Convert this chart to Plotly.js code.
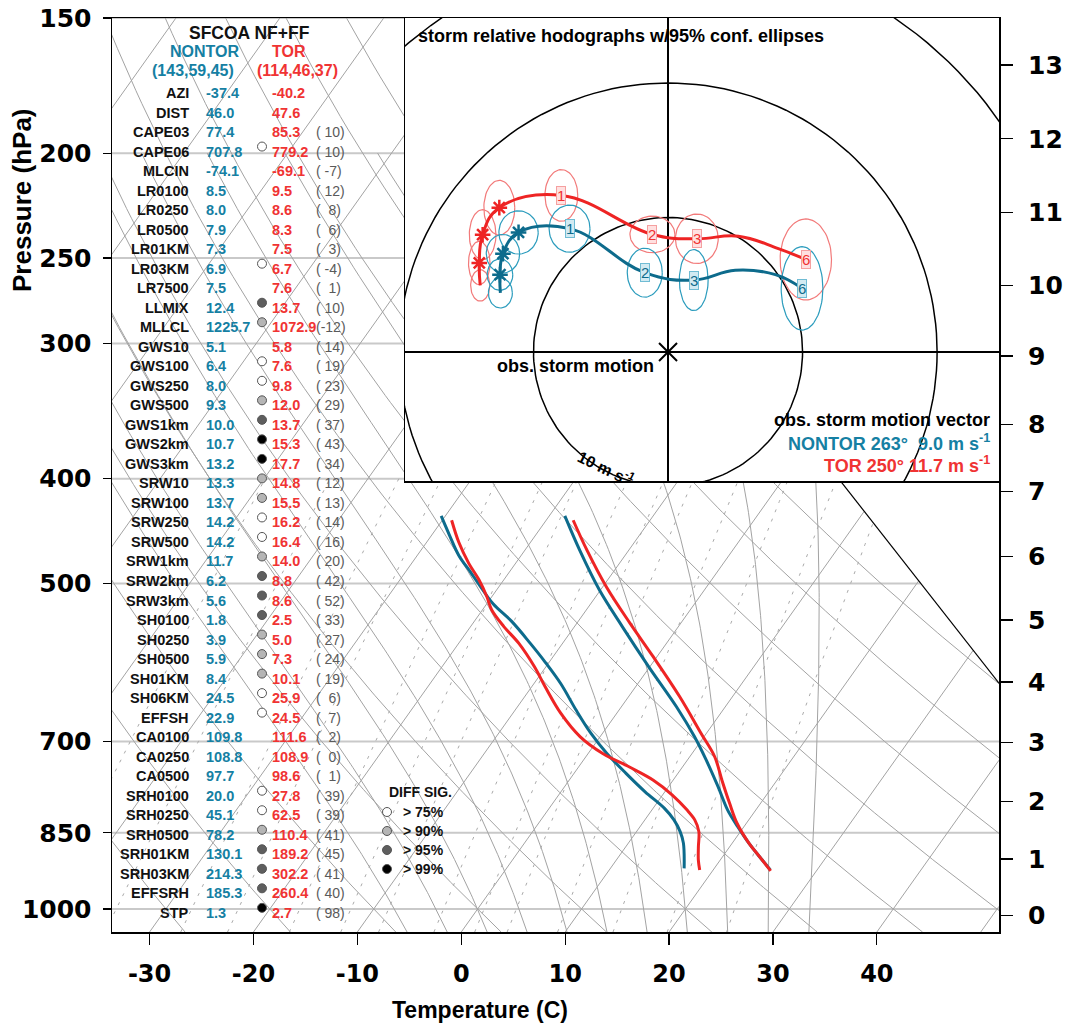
<!DOCTYPE html>
<html><head><meta charset="utf-8">
<script src="https://cdn.plot.ly/plotly-3.0.1.min.js"></script>
<style>body{margin:0;background:#fff}</style>
</head><body>
<div id="chart" style="width:1069px;height:1032px"></div>
<script>
// ================= DATA =================
const tempTicks = [-30,-20,-10,0,10,20,30,40];
const pressureTicks = [150,200,250,300,400,500,700,850,1000];
const pressureLines = [1000,850,700,500,400,300,250,200,150];
const heightKm = [0,1,2,3,4,5,6,7,8,9,10,11,12,13];
const heightPressure = [1013.25,898.8,795.0,701.1,616.6,540.5,472.2,411.1,356.5,308.0,265.0,227.0,194.0,165.8];

// composite soundings (hPa, deg C)
const nontorTp = [920,895,869,839,810,771,728,693,650,597,548,507,466,433];
const nontorT  = [25.5,23.6,21.6,19.4,17.3,14.8,11.8,9.1,5.3,-0.1,-5.4,-10.1,-14.7,-18.5];
const torTp    = [922,895,869,833,798,760,723,688,636,584,544,504,466,437];
const torT     = [25.6,23.6,21.6,19.1,17.0,14.7,12.4,9.5,4.9,-0.4,-4.9,-9.6,-14.0,-17.4];
const nontorTdp = [917,869,848,827,807,779,749,718,688,655,619,591,568,542,522,500,489,471,451,433];
const nontorTd  = [17.1,15.3,14.2,12.8,11.1,8.1,5.0,1.8,-1.1,-4.1,-7.4,-10.4,-13.1,-16.4,-19.4,-22.2,-23.6,-26.0,-28.3,-30.4];
const torTdp = [920,901,876,848,827,810,784,760,739,718,693,659,623,597,568,548,529,514,496,479,458,437];
const torTd  = [18.7,17.9,17.0,16.0,14.8,13.4,10.9,8.1,4.9,1.4,-1.9,-5.4,-8.7,-11.1,-14.2,-16.8,-19.1,-20.5,-22.4,-24.5,-26.9,-29.1];

// skew-T background lines
const isotherms = [-100,-90,-80,-70,-60,-50,-40,-30,-20,-10,0,10,20,30,40,50];
const dryAdiabats = [-30,-20,-10,0,10,20,30,40,50,60,70,80,90,100,110,120,130,140,150,160,170];
const moistAdiabats = [32,28,24,20,16,12,8,4,0,-4,-8];
const mixingRatios = [0.1,0.2,0.4,0.6,1,1.5,2,3,4,5,7,10,14,20];

// storm-relative hodographs (m/s), levels
const hodoLevels = ['10m','100m','250m','500m','1km','2km','3km','4km','5km','6km'];
const nontorU = [-12.46,-12.49,-12.27,-11.11,-7.32,-1.73,1.91,5.0,7.98,9.96];
const nontorV = [4.39,5.75,7.31,8.89,9.17,5.90,5.35,6.08,5.75,4.73];
const torU = [-13.96,-14.03,-13.78,-12.54,-7.93,-1.16,2.14,5.23,8.2,10.24];
const torV = [4.95,6.62,8.72,10.73,11.64,8.74,8.42,8.61,7.68,6.88];
const nontorEllU = [0.89,0.95,1.24,1.46,1.52,1.30,1.07,null,null,1.55];
const nontorEllV = [1.12,1.17,1.43,1.61,1.75,1.82,2.27,null,null,3.10];
const torEllU = [0.71,0.80,0.99,1.15,1.22,1.67,1.59,null,null,1.91];
const torEllV = [1.17,1.61,1.86,2.03,1.92,1.36,1.84,null,null,3.01];
const starLevels = ['100m','250m','500m'];
const labelLevels = {'1km':'1','2km':'2','3km':'3','6km':'6'};
const rings = [10,20,30];
const nontorMotion = {dir:263, spd:9.0};
const torMotion = {dir:250, spd:11.7};

// parameter table
const nontorN = [143,59,45];
const torN = [114,46,37];
const params = ['AZI','DIST','CAPE03','CAPE06','MLCIN','LR0100','LR0250','LR0500','LR01KM','LR03KM','LR7500','LLMIX','MLLCL',
 'GWS10','GWS100','GWS250','GWS500','GWS1km','GWS2km','GWS3km','SRW10','SRW100','SRW250','SRW500','SRW1km','SRW2km','SRW3km',
 'SH0100','SH0250','SH0500','SH01KM','SH06KM','EFFSH','CA0100','CA0250','CA0500','SRH0100','SRH0250','SRH0500','SRH01KM','SRH03KM','EFFSRH','STP'];
const nontorVals = [-37.4,46.0,77.4,707.8,-74.1,8.5,8.0,7.9,7.3,6.9,7.5,12.4,1225.7,
 5.1,6.4,8.0,9.3,10.0,10.7,13.2,13.3,13.7,14.2,14.2,11.7,6.2,5.6,
 1.8,3.9,5.9,8.4,24.5,22.9,109.8,108.8,97.7,20.0,45.1,78.2,130.1,214.3,185.3,1.3];
const torVals = [-40.2,47.6,85.3,779.2,-69.1,9.5,8.6,8.3,7.5,6.7,7.6,13.7,1072.9,
 5.8,7.6,9.8,12.0,13.7,15.3,17.7,14.8,15.5,16.2,16.4,14.0,8.8,8.6,
 2.5,5.0,7.3,10.1,25.9,24.5,111.6,108.9,98.6,27.8,62.5,110.4,189.2,302.2,260.4,2.7];
const pctDiff = [null,null,10,10,-7,12,8,6,3,-4,1,10,-12,
 14,19,23,29,37,43,34,12,13,14,16,20,42,52,
 33,27,24,19,6,7,2,0,1,39,39,41,45,41,40,98];
const sigLevel = [0,0,0,75,0,0,0,0,0,75,0,95,90,
 0,75,75,90,95,99,99,90,90,75,75,90,95,95,
 95,90,90,90,75,75,0,0,0,75,75,90,95,95,95,99];
const sigLegend = [75,90,95,99];

// ================= STYLE / HELPERS =================
const TEAL = '#0d6b8c', TEAL_TXT = '#1580a3', RED = '#ee2424', RED_TXT = '#f03333';
const TEAL_ELL = '#2b9cbd', RED_ELL = '#f27a7a';
const SIGFILL = {75:'#ffffff', 90:'#b5b5b5', 95:'#5e5e5e', 99:'#000000'};
const FONT = 'Liberation Sans, Arial, Helvetica, sans-serif';
const AXFONT = 'DejaVu Sans, Liberation Sans, Arial, sans-serif';
const XMIN = -19, XMAX = 27.1, BND_C = 36.3, BND_TOPX = 18.6;
const skewty = p => 132.182 - 44.061*Math.log10(p);
const skewtx = (t, y) => 0.54*t + 0.90692*y;
const PL = 112, PR = 999, PT = 18, PB = 932;
const PX = px => (px - PL)/(PR - PL);
const PY = py => (PB - py)/(PB - PT);

function xBound(y){ return Math.min(XMAX, Math.max(BND_C - y, BND_TOPX)); }
function intersect(a,b){
  const f = t => { const x=a[0]+(b[0]-a[0])*t, y=a[1]+(b[1]-a[1])*t; return x - xBound(y); };
  let lo=0, hi=1; const sa = f(0) > 0;
  for(let k=0;k<30;k++){ const m=(lo+hi)/2; if((f(m)>0)===sa) lo=m; else hi=m; }
  const t=(lo+hi)/2; return [a[0]+(b[0]-a[0])*t, a[1]+(b[1]-a[1])*t];
}
function clipInto(pts, X, Y){
  let prevIn = null;
  for(let i=0;i<pts.length;i++){
    const [x,y] = pts[i]; const inside = x <= xBound(y) + 1e-9;
    if(inside){
      if(prevIn === false){ const q = intersect(pts[i-1], pts[i]); X.push(q[0]); Y.push(q[1]); }
      X.push(x); Y.push(y);
    } else if(prevIn === true){
      const q = intersect(pts[i-1], pts[i]); X.push(q[0]); Y.push(q[1]);
    }
    prevIn = inside;
  }
  X.push(null); Y.push(null);
}
function pLevels(p1, p2, step){ const a=[]; for(let p=p1; p>=p2-1e-9; p-=step) a.push(p); return a; }

// grid: isotherms
const isoX=[], isoY=[];
isotherms.forEach(t => clipInto(pLevels(1050,150,5).map(p => { const y=skewty(p); return [skewtx(t,y), y]; }), isoX, isoY));
// dry adiabats
const dryX=[], dryY=[];
dryAdiabats.forEach(th => clipInto(pLevels(1050,150,5).map(p => { const y=skewty(p); const t=(th+273.15)*Math.pow(p/1000,0.2857)-273.15; return [skewtx(t,y), y]; }), dryX, dryY));
// moist adiabats
const Rd=287.04, Cp=1005.7, Lv=2.501e6, EPS=0.622;
const esat = tc => 6.112*Math.exp(17.67*tc/(tc+243.5));
function dTdp(p,T){ const es=esat(T-273.15); const rs=EPS*es/(p-es); return (Rd*T+Lv*rs)/(p*(Cp+Lv*Lv*rs*EPS/(Rd*T*T))); }
function rk(p,T,h){ const k1=dTdp(p,T),k2=dTdp(p+h/2,T+h/2*k1),k3=dTdp(p+h/2,T+h/2*k2),k4=dTdp(p+h,T+h*k3); return T+h/6*(k1+2*k2+2*k3+k4); }
const moistX=[], moistY=[];
moistAdiabats.forEach(t0 => {
  const pts=[]; let T=t0+273.15; const down=[];
  for(let p=1000;p<1050;p+=5){ T=rk(p,T,5); down.push([p+5,T]); }
  down.reverse().forEach(([p,T]) => { const y=skewty(p); pts.push([skewtx(T-273.15,y), y]); });
  T=t0+273.15;
  for(let p=1000;p>=200;p-=5){ const y=skewty(p); pts.push([skewtx(T-273.15,y), y]); T=rk(p,T,-5); }
  clipInto(pts, moistX, moistY);
});
// mixing ratio lines
const mixX=[], mixY=[];
mixingRatios.forEach(w => clipInto(pLevels(1050,400,10).map(p => {
  const e=w*p/(622+w); const l=Math.log(e/6.112); const td=243.5*l/(17.67-l); const y=skewty(p); return [skewtx(td,y), y]; }), mixX, mixY));
// pressure lines
const presX=[], presY=[];
pressureLines.forEach(p => { const y=skewty(p); presX.push(XMIN, xBound(y), null); presY.push(y, y, null); });

const traces = [];
traces.push({x:presX, y:presY, mode:'lines', line:{color:'#c9c9c9', width:2}, hoverinfo:'skip'});
traces.push({x:isoX, y:isoY, mode:'lines', line:{color:'#a3a3a3', width:1}, hoverinfo:'skip'});
traces.push({x:dryX, y:dryY, mode:'lines', line:{color:'#a3a3a3', width:1}, hoverinfo:'skip'});
traces.push({x:moistX, y:moistY, mode:'lines', line:{color:'#a3a3a3', width:1}, hoverinfo:'skip'});
traces.push({x:mixX, y:mixY, mode:'lines', line:{color:'#aaaaaa', width:1, dash:'3px,7px'}, hoverinfo:'skip'});
// diagonal boundary
traces.push({x:[XMAX, BND_TOPX], y:[BND_C-XMAX, BND_C-BND_TOPX], mode:'lines', line:{color:'#000', width:1.2}, hoverinfo:'skip'});

function profile(ps, ts, color){
  const y = ps.map(skewty); const x = ts.map((t,i)=>skewtx(t,y[i]));
  return {x, y, mode:'lines', line:{color, width:3, shape:'spline', smoothing:1}, hoverinfo:'skip'};
}
traces.push(profile(nontorTdp, nontorTd, TEAL));
traces.push(profile(torTdp, torTd, RED));
traces.push(profile(nontorTp, nontorT, TEAL));
traces.push(profile(torTp, torT, RED));
// dummy for right axis
traces.push({x:[XMIN], y:[0], yaxis:'y2', mode:'markers', marker:{opacity:0}, hoverinfo:'skip'});

// ---- hodograph inset (x2 / y3) ----
const H = {xaxis:'x2', yaxis:'y3', hoverinfo:'skip'};
rings.forEach(r => {
  const x=[], y=[]; for(let a=0;a<=360;a+=2){ x.push(r*Math.cos(a*Math.PI/180)); y.push(r*Math.sin(a*Math.PI/180)); }
  traces.push(Object.assign({x, y, mode:'lines', line:{color:'#000', width:1.5}}, H));
});
function ellipses(U,V,RU,RV,color){
  const x=[], y=[];
  U.forEach((u,i)=>{ if(RU[i]==null) return; for(let a=0;a<=360;a+=5){ x.push(u+RU[i]*Math.cos(a*Math.PI/180)); y.push(V[i]+RV[i]*Math.sin(a*Math.PI/180)); } x.push(null); y.push(null); });
  return Object.assign({x, y, mode:'lines', line:{color, width:1.2}}, H);
}
traces.push(ellipses(torU, torV, torEllU, torEllV, RED_ELL));
traces.push(ellipses(nontorU, nontorV, nontorEllU, nontorEllV, TEAL_ELL));
traces.push(Object.assign({x:torU, y:torV, mode:'lines', line:{color:RED, width:3, shape:'spline', smoothing:1.2}}, H));
traces.push(Object.assign({x:nontorU, y:nontorV, mode:'lines', line:{color:TEAL, width:3, shape:'spline', smoothing:1.2}}, H));
const starIdx = starLevels.map(l => hodoLevels.indexOf(l));
traces.push(Object.assign({x:starIdx.map(i=>torU[i]), y:starIdx.map(i=>torV[i]), mode:'markers', marker:{symbol:'asterisk-open', size:13, color:RED, line:{color:RED, width:2.5}}}, H));
traces.push(Object.assign({x:starIdx.map(i=>nontorU[i]), y:starIdx.map(i=>nontorV[i]), mode:'markers', marker:{symbol:'asterisk-open', size:13, color:TEAL, line:{color:TEAL, width:2.5}}}, H));
traces.push(Object.assign({x:[0], y:[0], mode:'markers', marker:{symbol:'x-thin-open', size:18, color:'#000', line:{color:'#000', width:2}}}, H));

// ================= ANNOTATIONS =================
const ann = [];
const fnt = (size, color, weight, fam) => ({family:fam||FONT, size, color, weight: weight||'bold'});
function pAnn(text, px, py, xanchor, font, extra){ ann.push(Object.assign({text, x:PX(px), y:PY(py), xref:'paper', yref:'paper', xanchor, yanchor:'middle', showarrow:false, font}, extra||{})); }
// titles
pAnn('Pressure (hPa)', 22, 200, 'center', fnt(26,'#000'), {textangle:-90});
pAnn('Temperature (C)', 480, 1010, 'center', fnt(23,'#000'));
// table header
pAnn('SFCOA NF+FF', 249, 33, 'center', fnt(17.5,'#111'));
pAnn('NONTOR', 204, 52, 'center', fnt(16,TEAL_TXT));
pAnn('TOR', 289, 52, 'center', fnt(16,RED_TXT));
pAnn('(' + nontorN.join(',') + ')', 193, 70, 'center', fnt(16,TEAL_TXT));
pAnn('(' + torN.join(',') + ')', 297, 70, 'center', fnt(16,RED_TXT));
const shapes = [];
function circ(px, py, r, fill){ shapes.push({type:'circle', xref:'paper', yref:'paper', xsizemode:'pixel', ysizemode:'pixel', xanchor:PX(px), yanchor:PY(py), x0:-r, x1:r, y0:-r, y1:r, fillcolor:fill, line:{color:'#555', width:1}}); }
params.forEach((name,i) => {
  const py = 93 + i*19.52;
  pAnn(name, 191, py, 'right', fnt(14.5,'#111'));
  pAnn(nontorVals[i].toFixed(1), 204, py, 'left', fnt(14.5,TEAL_TXT));
  pAnn(torVals[i].toFixed(1), 270, py, 'left', fnt(14.5,RED_TXT));
  if(pctDiff[i] !== null){
    const s = String(pctDiff[i]); pAnn('(' + '\u00a0'.repeat(3 - s.length) + s + ')', 314, py, 'left', fnt(14,'#5a5a5a','normal'));
  }
  if(sigLevel[i]) circ(262, py - 5, 4.5, SIGFILL[sigLevel[i]]);
});
// significance legend
pAnn('DIFF SIG.', 387, 792, 'left', fnt(14,'#111'));
sigLegend.forEach((s,k) => { const py = 812 + k*19; circ(387, py, 4.5, SIGFILL[s]); pAnn('>\u00a0' + s + '%', 401, py, 'left', fnt(14,'#111')); });

// hodograph annotations
function hAnn(text, x, y, xanchor, font, extra){ ann.push(Object.assign({text, x, y, xref:'x2', yref:'y3', xanchor, yanchor:'middle', showarrow:false, font}, extra||{})); }
hAnn('storm relative hodographs w/95% conf. ellipses', -18.7, 23.5, 'left', fnt(18,'#000'));
hAnn('obs. storm motion', -0.9, -1.05, 'right', fnt(18,'#000'));
hAnn('obs. storm motion vector', 24.1, -5.03, 'right', fnt(18,'#000'));
hAnn('NONTOR ' + nontorMotion.dir + '°\u00a0\u00a0' + nontorMotion.spd.toFixed(1) + ' m s<sup>-1</sup>', 24.1, -6.74, 'right', fnt(18,TEAL_TXT));
hAnn('TOR ' + torMotion.dir + '° ' + torMotion.spd.toFixed(1) + ' m s<sup>-1</sup>', 24.1, -8.38, 'right', fnt(18,RED_TXT));
hAnn('10 m s<sup>-1</sup>', -4.6, -8.65, 'center', fnt(16,'#000'), {textangle:26});
Object.keys(labelLevels).forEach(l => {
  const i = hodoLevels.indexOf(l);
  hAnn(labelLevels[l], torU[i], torV[i], 'center', fnt(15,RED_TXT,'normal'), {bgcolor:'#ffe0e0', bordercolor:'#f5a0a0', borderwidth:1, borderpad:0});
  hAnn(labelLevels[l], nontorU[i], nontorV[i], 'center', fnt(15,TEAL,'normal'), {bgcolor:'#d2eaf2', bordercolor:'#70bcd4', borderwidth:1, borderpad:0});
});

const tickFont = {family:AXFONT, size:25, color:'#000', weight:'bold'};
const tickFontX = {family:AXFONT, size:24, color:'#000', weight:'bold'};
const yr = [skewty(1050), skewty(150)];
const layout = {
  width:1069, height:1032, margin:{l:112, r:70, t:18, b:100}, paper_bgcolor:'#fff', plot_bgcolor:'#fff', showlegend:false,
  xaxis:{range:[XMIN,XMAX], tickmode:'array', tickvals:tempTicks.map(t=>skewtx(t,skewty(1050))), ticktext:tempTicks.map(String),
    ticks:'outside', ticklen:11, tickwidth:1.2, tickcolor:'#000', showline:true, mirror:true, linecolor:'#000', linewidth:1.5,
    showgrid:false, zeroline:false, tickfont:tickFontX, ticklabelstandoff:9, fixedrange:true},
  yaxis:{range:yr, tickmode:'array', tickvals:pressureTicks.map(skewty), ticktext:pressureTicks.map(String),
    ticks:'outside', ticklen:8, tickwidth:1.2, tickcolor:'#000', showline:true, mirror:true, linecolor:'#000', linewidth:1.5,
    showgrid:false, zeroline:false, tickfont:tickFont, ticklabelstandoff:6, fixedrange:true},
  yaxis2:{overlaying:'y', side:'right', range:yr, tickmode:'array', tickvals:heightPressure.map(skewty), ticktext:heightKm.map(String),
    ticks:'outside', ticklen:13, tickwidth:1.2, tickcolor:'#000', showline:false, showgrid:false, zeroline:false, tickfont:tickFont, ticklabelstandoff:10, fixedrange:true},
  xaxis2:{domain:[PX(405),1], anchor:'y3', range:[-19.55,24.6], showline:true, mirror:true, linecolor:'#000', linewidth:1.5,
    zeroline:true, zerolinecolor:'#000', zerolinewidth:1.5, showgrid:false, showticklabels:false, ticks:'', fixedrange:true},
  yaxis3:{domain:[PY(481),1], anchor:'x2', range:[-9.59,24.83], showline:true, mirror:true, linecolor:'#000', linewidth:1.5,
    zeroline:true, zerolinecolor:'#000', zerolinewidth:1.5, showgrid:false, showticklabels:false, ticks:'', fixedrange:true},
  annotations: ann, shapes
};
Plotly.newPlot('chart', traces, layout, {displayModeBar:false, staticPlot:true});
</script>
</body></html>
